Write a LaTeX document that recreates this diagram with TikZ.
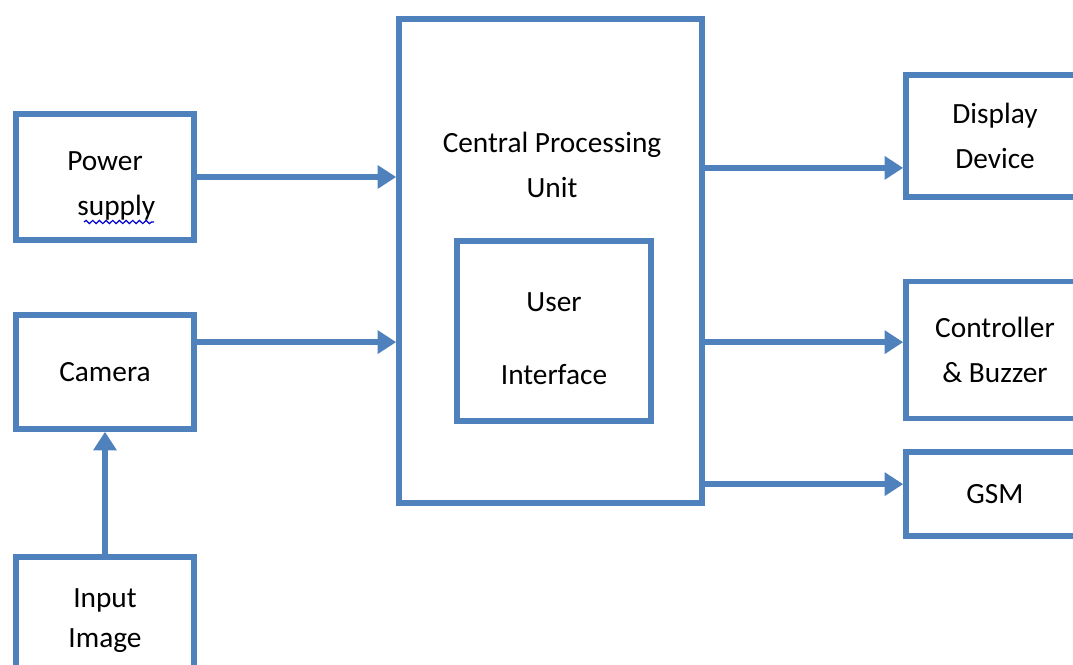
\documentclass[tikz,border=0pt]{standalone}
\usepackage{xcolor}
\usepackage{fontspec}
\setmainfont{Carlito}
\usepackage{tikz}
\usetikzlibrary{arrows.meta,calc,decorations.pathmorphing}

\definecolor{boxblue}{RGB}{79,129,189}
\tikzset{
  blk/.style={draw=boxblue, line width=4.2pt, align=center, inner sep=0pt},
  flow/.style={draw=boxblue, line width=4.2pt, -{Triangle[length=14pt,width=17pt]}},
  squiggle/.style={draw=blue!80!black, line width=0.9pt, decorate,
    decoration={snake, amplitude=1.2pt, segment length=5pt}},
}

\begin{document}
\begin{tikzpicture}[x=0.75pt,y=0.75pt,yscale=-1,xscale=1,font=\fontsize{22}{34}\selectfont]
        \useasboundingbox (0,0) rectangle (1073,664);
        \clip (0,0) rectangle (1073,664);

        % inputs on the left
        \node[blk, minimum width=133.5pt, minimum height=94.5pt] (power) at (105,177) {};
        \node[align=center] (powertext) at (105,186) {Power\\\hspace*{17pt}supply};
        \node[blk, minimum width=133.5pt, minimum height=85.5pt] (camera) at (105,372) {Camera};
        \node[blk, minimum width=133.5pt, minimum height=96pt] (input) at (105,621) {Input\\[-4pt]Image};
        \draw[squiggle] (84,222) -- (154,222);

        % processing unit
        \node[blk, minimum width=227.25pt, minimum height=363pt] (cpu) at (550.5,261) {};
        \node[align=center] (cputext) at (552,165) {Central Processing\\Unit};
        \node[blk, minimum width=145.5pt, minimum height=135pt] (ui) at (554,331) {};
        \node[align=center] (uitext) at (554,339) {User\\[21pt]Interface};

        % outputs on the right
        \node[blk, minimum width=133.5pt, minimum height=91.5pt] (display) at (995,136) {Display\\Device};
        \node[blk, minimum width=133.5pt, minimum height=102.75pt] (ctrl) at (995,350) {Controller\\\& Buzzer};
        \node[blk, minimum width=133.5pt, minimum height=63pt] (gsm) at (995,494) {GSM};

        \coordinate (camout) at ($(camera.north east)!0.25!(camera.south east)$);
        \coordinate (dispin) at ($(display.north west)!0.75!(display.south west)$);
        \coordinate (ctrlin) at ($(ctrl.north west)!0.445!(ctrl.south west)$);
        \coordinate (gsmin) at ($(gsm.north west)!0.39!(gsm.south west)$);

        \draw[flow] (power.east) -- (power.east -| cpu.west);
        \draw[flow] (camout) -- (camout -| cpu.west);
        \draw[flow] (input.north) -- (camera.south);
        \draw[flow] (cpu.east |- dispin) -- (dispin);
        \draw[flow] (cpu.east |- ctrlin) -- (ctrlin);
        \draw[flow] (cpu.east |- gsmin) -- (gsmin);

    \end{tikzpicture}
\end{document}
